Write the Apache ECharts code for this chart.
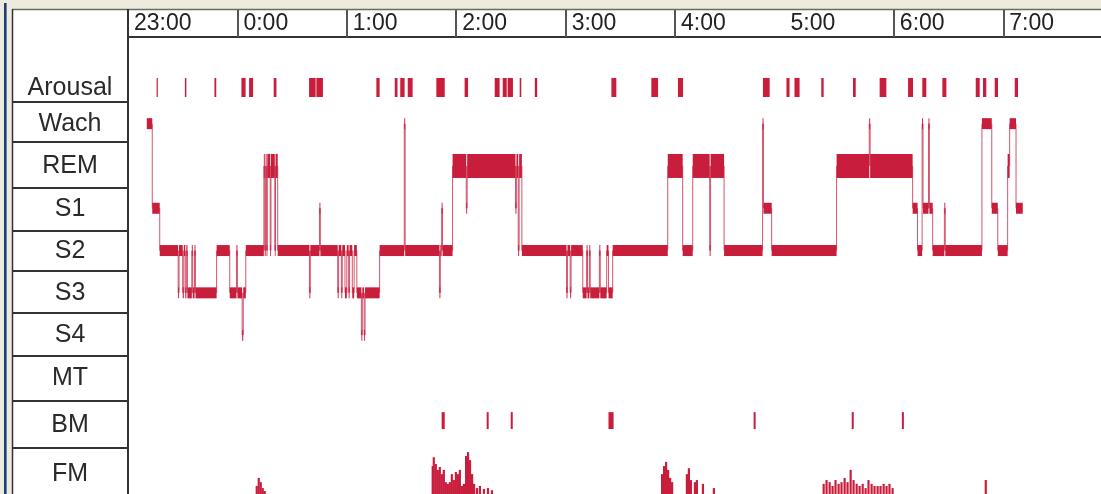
<!DOCTYPE html>
<html>
<head>
<meta charset="utf-8">
<script src="https://cdn.jsdelivr.net/npm/echarts@6/dist/echarts.min.js"></script>
<style>
html,body{margin:0;padding:0;background:#ECEBDD;}
#chart{width:1101px;height:494px;}
</style>
</head>
<body>
<div id="chart"></div>
<script>
// ---------------- DATA (minutes after 23:00) ----------------
const hourLabels = ['23:00','0:00','1:00','2:00','3:00','4:00','5:00','6:00','7:00'];
const hourTicks = [0,60,120,180,240,300,360,420,480];
const headerSeparators = [0,60,120,180,240,300,420,480]; // no divider before 5:00 in the original
const rowLabels = ['Arousal','Wach','REM','S1','S2','S3','S4','MT','BM','FM'];

// hypnogram: each segment starts at segStart[i] with stage segStage[i]; last one ends at hypnoEnd
const segStart = [
  10.3,13.3,17.4,27.5,28.0,30.0,30.6,31.4,32.0,32.6,35.0,35.5,36.5,37.0,
  48.6,55.8,59.5,60.0,62.6,63.2,64.6,
  74.5,75.0,75.5,76.0,76.4,78.0,78.4,80.5,80.9,82.1,
  99.5,100.0,105.0,105.5,115.0,115.5,117.0,117.5,119.0,120.0,121.0,121.5,123.0,124.0,125.5,
  128.0,128.5,129.5,130.0,138.0,151.5,152.0,170.8,171.3,172.0,172.5,
  178.0,185.5,186.0,212.5,213.0,214.0,214.5,216.0,
  240.5,241.0,242.5,243.0,249.4,251.5,252.0,253.0,253.5,258.5,259.0,262.5,263.5,265.8,
  296.0,304.2,309.7,319.0,319.5,326.9,
  348.0,348.5,353.0,388.6,406.5,407.0,
  430.3,433.0,435.5,436.0,439.0,439.5,441.3,447.7,448.2,
  468.3,473.7,477.0,482.4,483.5,487.0
];
const segStage = [
  'Wach','S1','S2','S3','S2','S3','S2','S3','S2','S3','S2','S3','S2','S3',
  'S2','S3','S2','S3','S4','S3','S2',
  'REM','S2','REM','S2','REM','S2','REM','S2','REM','S2',
  'S3','S2','S1','S2','S3','S2','S3','S2','S3','S2','S3','S2','S3','S2','S3',
  'S4','S3','S4','S3','S2','Wach','S2','S3','S2','S1','S2',
  'REM','S1','REM','S1','REM','S2','REM','S2',
  'S3','S2','S3','S2','S3','S2','S3','S2','S3','S2','S3','S2','S3','S2',
  'REM','S2','REM','S2','REM','S2',
  'Wach','S1','S2','REM','Wach','REM',
  'S1','S2','Wach','S1','Wach','S1','S2','S1','S2',
  'Wach','S1','S2','REM','Wach','S1'
];
const hypnoEnd = 490.7;

// arousal events [start, end]
const arousalStart = [15.7,31.2,47.4,62.2,66.4,79.9,99.3,103.3,136.2,146.3,149.3,153.4,169.1,184.6,201.1,205.5,208.2,214.8,223.1,
  265.1,287.0,301.6,348.2,361.1,365.5,380.2,397.6,412.2,427.8,435.6,446.6,464.9,468.9,475.3,486.3];
const arousalEnd   = [16.3,32.0,48.4,64.5,68.6,81.4,102.9,106.9,138.0,147.8,151.7,156.1,173.7,186.5,203.8,207.7,211.1,215.7,224.4,
  267.8,290.7,304.4,351.9,362.8,368.3,381.5,399.1,415.9,430.5,437.8,448.8,467.1,470.7,477.1,488.1];

// body movements [start, end]
const bmStart = [172.0,196.7,209.9,263.5,343.1,396.9,424.4];
const bmEnd   = [173.7,197.8,211.0,266.3,344.2,398.0,425.5];

// fine movements: time and level (% of a row height)
const fmTime = [
  70.0,71.1,72.2,73.3,74.4,
  166.5,167.1,168.2,169.3,170.4,171.5,172.6,173.7,174.8,175.9,177.0,178.1,179.2,180.3,181.4,182.5,183.6,184.8,185.9,187.0,188.1,189.2,190.8,192.4,194.6,196.8,199.0,
  292.3,293.4,294.5,295.6,296.7,297.8,305.9,307.0,308.1,310.3,311.4,314.7,320.7,
  380.9,382.5,384.2,385.8,387.4,389.1,390.7,392.4,394.0,395.7,397.3,399.0,400.6,402.3,403.9,405.5,407.2,408.8,410.5,412.1,413.8,415.4,417.0,418.7,
  469.8
];
const fmLevel = [
  19,38,28,14,7,
  66,87,71,57,64,47,57,28,24,28,47,33,52,47,57,19,24,90,99,80,47,24,14,19,12,14,9,
  47,66,76,57,38,28,47,61,33,28,33,24,14,
  24,33,28,19,33,24,28,38,28,57,33,24,19,24,14,33,24,19,19,19,24,19,24,14,
  33
];

// ---------------- LAYOUT / STYLE ----------------
const RED = '#C81E3C';
const STAGE_VALUE = {Wach:1, REM:2, S1:3, S2:4, S3:5, S4:6};
const AXIS_MIN = -1.0485, AXIS_MAX = 9.7553;       // y-axis extent (stage rows)
const AROUSAL_BAND = [-0.08, 0.37];
const BM_BAND = [7.82, 8.22];
const X_MAX = 533.6;
const ROW_LINES = [102,142,188,231,271,313,356,401,448];
const ROW_LABEL_Y = [88,124,166,209,251,293,335,378,425,474];

const hypnoData = segStart.map((s, i) => [
  s,
  i + 1 < segStart.length ? segStart[i + 1] : hypnoEnd,
  STAGE_VALUE[segStage[i]],
  i > 0 ? STAGE_VALUE[segStage[i - 1]] : 0
]);
const arousalData = arousalStart.map((s, i) => [s, arousalEnd[i]]);
const bmData = bmStart.map((s, i) => [s, bmEnd[i]]);
const fmData = fmTime.map((t, i) => [t, fmLevel[i]]);

function bandRender(band) {
  return function (params, api) {
    const a = api.coord([api.value(0), band[0]]);
    const b = api.coord([api.value(1), band[1]]);
    return {type: 'rect', shape: {x: a[0], y: a[1], width: Math.max(b[0] - a[0], 1.2), height: b[1] - a[1]},
            style: {fill: RED}};
  };
}

const graphics = [
  {type: 'rect', z: -100, shape: {x: 12, y: 9, width: 1089, height: 485}, style: {fill: '#ffffff'}},
  {type: 'rect', z: 100, shape: {x: 4, y: 3, width: 2.6, height: 491}, style: {fill: '#1E3C78'}},
  {type: 'line', z: 100, shape: {x1: 12, y1: 9.5, x2: 1101, y2: 9.5}, style: {stroke: '#6a6a64', lineWidth: 1.5}},
  {type: 'line', z: 100, shape: {x1: 12.5, y1: 9, x2: 12.5, y2: 494}, style: {stroke: '#333', lineWidth: 1.5}},
  {type: 'line', z: 100, shape: {x1: 128, y1: 9, x2: 128, y2: 494}, style: {stroke: '#333', lineWidth: 2}}
];
ROW_LINES.forEach(y => graphics.push({type: 'line', z: 100,
  shape: {x1: 12, y1: y, x2: 128, y2: y}, style: {stroke: '#333', lineWidth: 2}}));
rowLabels.forEach((t, i) => graphics.push({type: 'text', z: 100, x: 70, y: ROW_LABEL_Y[i],
  style: {text: t, fill: '#2a2a2a', font: '25px "Liberation Sans", Arial, sans-serif', textAlign: 'center', textVerticalAlign: 'middle'}}));

const chart = echarts.init(document.getElementById('chart'), null, {renderer: 'canvas'});
chart.setOption({
  backgroundColor: '#ECEBDD',
  animation: false,
  graphic: graphics,
  grid: {left: 128, right: 0, top: 37, bottom: 0, containLabel: false},
  xAxis: {
    type: 'value', position: 'top', min: 0, max: X_MAX, z: 50,
    axisLine: {show: true, onZero: false, lineStyle: {color: '#333', width: 2}},
    axisTick: {show: true, inside: false, length: 28, customValues: headerSeparators,
               lineStyle: {color: '#555', width: 2}},
    axisLabel: {show: true, customValues: hourTicks, align: 'left', verticalAlign: 'middle', margin: 13,
                padding: [0, 0, 0, 6], color: '#222', fontSize: 23, fontFamily: '"Liberation Sans", Arial, sans-serif',
                formatter: v => hourLabels[Math.round(v / 60)]},
    splitLine: {show: false}
  },
  yAxis: {type: 'value', inverse: true, min: AXIS_MIN, max: AXIS_MAX, show: false, splitLine: {show: false}},
  series: [
    {
      type: 'custom', name: 'Hypnogramm', data: hypnoData, clip: true,
      encode: {x: [0, 1], y: 2},
      renderItem: function (params, api) {
        const s = api.value(0), e = api.value(1), st = api.value(2), prev = api.value(3);
        const p0 = api.coord([s, st]);
        const p1 = api.coord([e, st]);
        const h = st === 2 ? 24 : 11;
        const children = [{type: 'rect', shape: {x: p0[0], y: p0[1] - h / 2, width: Math.max(p1[0] - p0[0], 0.8), height: h},
                           style: {fill: RED}}];
        if (prev > 0 && prev !== st) {
          const pp = api.coord([s, prev]);
          children.push({type: 'line', shape: {x1: p0[0], y1: pp[1], x2: p0[0], y2: p0[1]},
                         style: {stroke: RED, lineWidth: 1, opacity: 0.75}});
        }
        return {type: 'group', children: children};
      }
    },
    {type: 'custom', name: 'Arousal', data: arousalData, encode: {x: [0, 1]}, renderItem: bandRender(AROUSAL_BAND)},
    {type: 'custom', name: 'BM', data: bmData, encode: {x: [0, 1]}, renderItem: bandRender(BM_BAND)},
    {
      type: 'custom', name: 'FM', data: fmData, encode: {x: 0},
      renderItem: function (params, api) {
        const t = api.value(0), lv = api.value(1);
        const base = api.coord([t, AXIS_MAX]);
        const top = api.coord([t + 1.2, AXIS_MAX - lv / 100]);
        return {type: 'rect', shape: {x: base[0], y: top[1], width: top[0] - base[0], height: base[1] - top[1]},
                style: {fill: RED}};
      }
    }
  ]
});
</script>
</body>
</html>
